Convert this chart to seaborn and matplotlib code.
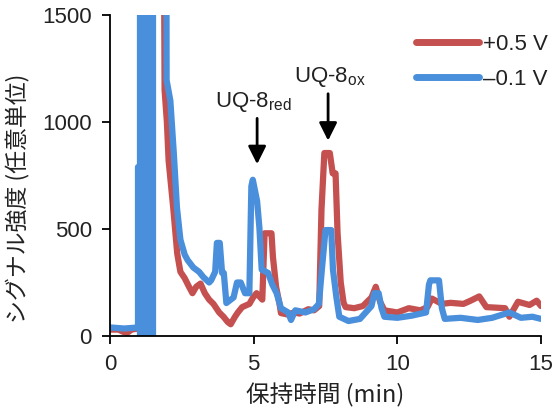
import matplotlib
matplotlib.use("Agg")
import matplotlib.pyplot as plt
from matplotlib.lines import Line2D
import seaborn as sns
import pandas as pd

# ---- data (retention time in min, signal in a.u.) ----
t_pos = [0.0, 0.3, 0.45, 0.6, 0.75, 0.98, 1.06, 1.06, 1.84, 1.9, 1.98, 2.04, 2.2,
         2.34, 2.45, 2.6, 2.75, 2.87, 3.0, 3.15, 3.3, 3.45, 3.6, 3.8, 3.95, 4.1, 4.2,
         4.35, 4.45, 4.6, 4.85, 4.98, 5.1, 5.3, 5.38, 5.62, 5.67, 5.78, 5.9, 5.95, 6.2,
         6.4, 6.6, 6.9, 7.1, 7.28, 7.36, 7.46, 7.65, 7.75, 7.85, 7.92, 8.03, 8.13, 8.2,
         8.5, 8.8, 9.1, 9.25, 9.4, 9.55, 10.0, 10.4, 10.8, 11.05, 11.2, 11.55, 11.85,
         12.3, 12.55, 12.85, 13.1, 13.75, 13.9, 14.2, 14.6, 14.85, 15.0]
v_pos = [30, 30, 20, 15, 30, 35, 35, 3000, 3000, 1150, 1000, 820, 600,
         385, 300, 270, 230, 200, 230, 245, 200, 170, 150, 110, 90, 65, 55,
         90, 110, 135, 150, 180, 200, 170, 480, 480, 370, 230, 150, 107, 100,
         110, 105, 125, 120, 140, 590, 855, 855, 760, 760, 480, 250, 155, 135,
         130, 140, 180, 230, 160, 120, 110, 130, 120, 135, 175, 150, 155,
         150, 165, 185, 135, 130, 90, 160, 145, 165, 140]

# -0.1 V trace: baseline before the solvent front
t_neg_pre = [0.0, 0.5, 0.98]
v_neg_pre = [40, 35, 40]
# first rise of the solvent front (to ~790)
t_neg_step = [0.98, 1.02]
v_neg_step = [40, 790]
# solvent-front swings (off-scale both ways), each one a full-height stroke
t_neg_front = [1.06, 1.1, 1.14, 1.18, 1.22, 1.26, 1.30, 1.34, 1.38, 1.42, 1.46, 1.5]
v_neg_front = [-200, 3000]
# rest of the -0.1 V trace
t_neg = [1.5, 1.95, 1.97, 2.1, 2.22, 2.33, 2.45, 2.6, 2.7, 2.9, 3.1, 3.25, 3.45, 3.52,
         3.66, 3.72, 3.82, 3.9, 3.96, 4.05, 4.3, 4.42, 4.55, 4.7, 4.85, 4.92, 4.97,
         5.12, 5.2, 5.28, 5.5, 5.65, 5.8, 5.95, 6.2, 6.3, 6.45, 6.8, 7.1, 7.27, 7.38,
         7.5, 7.7, 7.76, 7.88, 7.98, 8.3, 8.7, 9.1, 9.2, 9.35, 9.45, 9.55, 10.0, 10.5,
         11.0, 11.1, 11.15, 11.45, 11.55, 11.65, 12.2, 12.8, 13.3, 13.9, 14.3, 14.7, 15.0]
v_neg = [3000, 3000, 1195, 1100, 855, 600, 450, 380, 355, 320, 300, 275, 250, 260,
         300, 435, 435, 295, 295, 154, 180, 250, 250, 200, 200, 700, 730,
         630, 505, 310, 295, 240, 200, 130, 110, 75, 120, 110, 125, 150, 320,
         495, 495, 310, 180, 90, 70, 80, 140, 200, 200, 130, 90, 85, 95,
         110, 240, 260, 260, 130, 80, 85, 75, 85, 110, 85, 90, 80]

labels = ["+0.5 V", "\u20130.1 V"]
colors = ["#C4514F", "#4A8FDB"]
x_ticks = [0, 5, 10, 15]
y_ticks = [0, 500, 1000, 1500]

frames = [
    pd.DataFrame({"t": t_pos, "v": v_pos, "s": labels[0], "u": "p0"}),
    pd.DataFrame({"t": t_neg_pre, "v": v_neg_pre, "s": labels[1], "u": "n_pre"}),
]
for i, ts in enumerate(t_neg_step):
    frames.append(pd.DataFrame({"t": [ts, ts], "v": v_neg_step,
                                "s": labels[1], "u": f"n_step{i}"}))
for i, tf in enumerate(t_neg_front):
    frames.append(pd.DataFrame({"t": [tf, tf], "v": v_neg_front,
                                "s": labels[1], "u": f"n_front{i}"}))
frames.append(pd.DataFrame({"t": t_neg, "v": v_neg, "s": labels[1], "u": "n_main"}))
df = pd.concat(frames, ignore_index=True)

sns.set_theme(style="ticks")
plt.rcParams["font.family"] = ["Liberation Sans", "Noto Sans CJK JP"]
plt.rcParams["mathtext.fontset"] = "custom"
plt.rcParams["mathtext.rm"] = "Liberation Sans"
plt.rcParams["path.simplify"] = False

fig = plt.figure(figsize=(5.53, 4.08), dpi=100)
ax = fig.add_axes([110 / 553, 1 - 336 / 408, (541 - 110) / 553, (336 - 15) / 408])

sns.lineplot(data=df, x="t", y="v", hue="s", hue_order=labels, units="u",
             palette=dict(zip(labels, colors)), ax=ax,
             linewidth=4.5, estimator=None, sort=False, legend=False,
             solid_joinstyle="round", solid_capstyle="round")

ax.set_xlim(0, 15)
ax.set_ylim(0, 1500)
ax.set_xticks(x_ticks)
ax.set_yticks(y_ticks)
ax.tick_params(axis="both", labelsize=16, length=6, width=1.3, color="black",
               labelcolor="#222222", direction="out", pad=7)
for side in ["top", "right"]:
    ax.spines[side].set_visible(False)
for side in ["left", "bottom"]:
    ax.spines[side].set_linewidth(1.3)
    ax.spines[side].set_color("black")

ax.set_xlabel("保持時間 (min)", fontsize=17, color="#222222",
              family=["Noto Sans CJK JP", "Liberation Sans"], labelpad=6)
ax.set_ylabel("シグナル強度 (任意単位)", fontsize=16.5, color="#222222",
              family=["Noto Sans CJK JP", "Liberation Sans"])
ax.yaxis.set_label_coords(-0.185, 0.43)

# annotations
ax.annotate("", xy=(5.12, 790), xytext=(5.12, 1030),
            arrowprops=dict(arrowstyle="-|>,head_length=0.9,head_width=0.45",
                            color="black", lw=2))
ax.text(5.0, 1070, "UQ-8$\\mathregular{_{red}}$", ha="center", va="baseline",
        fontsize=16, color="#222222")
ax.annotate("", xy=(7.59, 900), xytext=(7.59, 1145),
            arrowprops=dict(arrowstyle="-|>,head_length=0.9,head_width=0.45",
                            color="black", lw=2))
ax.text(7.66, 1187, "UQ-8$\\mathregular{_{ox}}$", ha="center", va="baseline",
        fontsize=16, color="#222222")

# legend
handles = [Line2D([], [], color=c, lw=5, solid_capstyle="round") for c in colors]
leg = ax.legend(handles, labels, loc="upper left", bbox_to_anchor=(0.69, 0.968),
                frameon=False, fontsize=16, handlelength=2.8, handletextpad=0.2,
                labelspacing=0.62, borderaxespad=0)
for txt in leg.get_texts():
    txt.set_color("#222222")

fig.savefig("out.png", dpi=100)
